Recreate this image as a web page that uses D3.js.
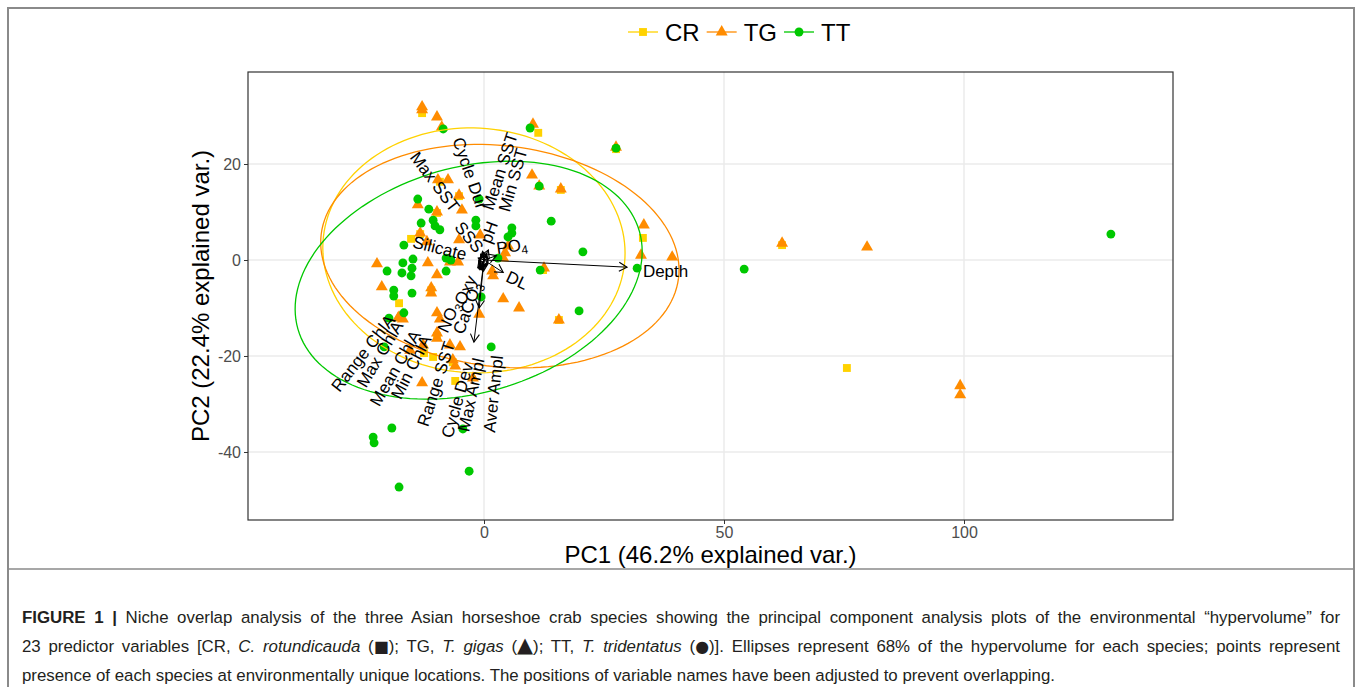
<!DOCTYPE html>
<html>
<head>
<meta charset="utf-8">
<script src="https://cdn.jsdelivr.net/npm/d3@7/dist/d3.min.js"></script>
<style>
    body { margin: 0; background: #fff; }
    svg { font-family: "Liberation Sans", Arial, sans-serif; }
</style>
</head>
<body>
<svg id="chart" width="1360" height="687"></svg>
<script>

// ---- data (PC units) ----
var groups = ["CR", "TG", "TT"];

var crPoints = [
    [-12.9, 30.6], [11.3, 26.5], [-9.2, 16.3], [-5.2, 13.3], [-9.8, 9.8], [-15.2, 4.4], [-13.3, 5.4],
    [33.1, 4.6], [16.0, 14.6], [12.3, -2.1], [15.6, -12.5], [-11.0, -6.3], [-17.7, -9.0], [-9.8, -15.8],
    [-12.5, -19.4], [-10.6, -20.2], [-6.5, -21.3], [-6.0, -25.2], [75.6, -22.5], [62.1, 3.1], [27.5, 23.1]
];

var tgPoints = [
    [-12.9, 31.9], [-12.9, 31.3], [-9.8, 29.8], [-8.8, 27.7], [10.2, 28.3], [27.5, 23.5], [10.0, 17.7],
    [11.5, 15.4], [16.0, 14.8], [-9.6, 16.7], [-7.5, 16.7], [-5.2, 13.5], [-4.6, 10.4], [-13.8, 11.5],
    [-9.8, 10.0], [-13.3, 5.6], [-5.2, 4.2], [-0.8, 5.2], [-11.9, 3.8], [5.0, 2.9], [4.4, 1.5], [4.0, 0.4],
    [33.3, 7.3], [32.7, 1.0], [39.2, 0.6], [62.1, 3.5], [79.8, 2.7], [99.2, -26.2], [99.2, -28.1],
    [12.5, -1.7], [15.6, -12.5], [4.0, -8.1], [7.3, -10.0], [1.7, -2.3], [1.9, -3.3], [-22.3, -0.8],
    [-21.3, -5.6], [-11.7, -0.6], [-9.8, -3.1], [-7.1, -0.4], [-5.4, -0.4], [-11.0, -5.8], [-11.0, -6.9],
    [-17.7, -11.9], [-9.8, -11.0], [-9.2, -12.3], [-9.8, -15.2], [-9.8, -16.3], [-7.1, -17.7], [-5.0, -18.1],
    [-6.5, -20.8], [-6.0, -22.1], [-1.0, -11.3], [-2.3, -24.6], [-12.9, -25.6], [-15.4, -18.8], [-12.7, -17.7],
    [-16.9, -12.3], [-17.9, -12.1]
];

var ttPoints = [
    [130.6, 5.4], [54.2, -1.9], [31.9, -1.7], [27.5, 23.3], [9.6, 27.5], [11.5, 15.4], [14.0, 8.1],
    [20.6, 1.7], [11.7, -2.1], [19.8, -10.6], [5.8, 6.7], [5.8, 5.6], [5.0, 4.8], [2.9, 0.4], [-8.5, 27.3],
    [-1.0, 12.7], [-13.8, 12.7], [-11.5, 10.6], [-10.6, 8.3], [-10.2, 7.1], [-9.2, 6.3], [-13.1, 7.7],
    [-16.7, 3.1], [-1.7, 8.3], [-1.7, 7.1], [-20.2, -2.3], [-16.9, -0.6], [-17.1, -2.7], [-14.8, 0.2],
    [-15.0, -1.7], [-15.2, -3.3], [-18.8, -6.3], [-18.8, -7.5], [-15.0, -6.9], [-16.7, -11.0], [-19.8, -12.1],
    [-7.9, -2.3], [-6.9, 0.0], [-0.6, -7.7], [1.5, -18.1], [-4.4, -35.2], [-3.1, -44.0], [-17.7, -47.3],
    [-23.1, -36.9], [-22.9, -38.1], [-19.2, -35.0], [-20.8, -18.1], [-7.9, 0.4]
];

// 68% ellipses: centre, semi axes, rotation (deg)
var ellipseCentre = [[-2.1, 2.0], [3.3, 0.8], [-3.2, -4.2]];
var ellipseAxes = [[31.5, 25.5], [37.5, 23.0], [37.0, 23.5]];
var ellipseAngle = [-3, -7, 16];

// variable arrows (end points) and their adjusted label positions
var varNames = ["Depth", "DL", "PO4", "pH", "SSS", "Silicate", "Max SST", "Cycle Dur", "Mean SST", "Min SST",
    "NO3Oxy", "CaCO3", "Range ChlA", "Max ChlA", "Mean ChlA", "Min ChlA", "Range SST", "Cycle Dev", "Max Ampl", "Aver Ampl"];
var varX = [29.8, 4.0, 2.6, 0.9, -0.3, -1.2, -0.7, -0.2, 0.5, 0.6, -0.6, -1.0, -1.3, -1.1, -0.9, -0.8, -0.5, -0.3, -0.1, -2.1];
var varY = [-1.5, -2.6, 0.9, 2.1, 1.8, 0.4, 1.2, 1.5, 1.4, 1.1, -1.5, -10.0, -1.6, -1.8, -1.9, -2.0, -2.0, -2.2, -2.3, -17.1];
var labelX = [33.1, 6.9, 5.8, 1.0, -3.1, -9.2, -10.2, -2.9, 3.3, 6.0, -6.0, -3.5, -25.2, -21.7, -18.5, -15.2, -10.0, -5.6, -2.7, 1.9];
var labelY = [-2.3, -4.2, 2.9, 5.8, 4.8, 2.5, 16.3, 18.1, 18.5, 16.7, -9.0, -10.0, -19.4, -19.6, -22.5, -22.3, -25.8, -29.2, -28.1, -27.9];
var labelAngle = [0, 25, -8, -70, 50, 14, 53, 71, -72, -74, -65, -70, -52, -59, -60, -63, -72, -74, -78, -84];

var xTicks = [0, 50, 100];
var yTicks = [20, 0, -20, -40];
var xDomain = [-49.17, 143.54];
var yDomain = [-54.17, 39.17];

var xTitle = "PC1 (46.2% explained var.)";
var yTitle = "PC2 (22.4% explained var.)";

var captionLines = [
    [{t: "FIGURE 1 |", b: 1}, {t: " Niche overlap analysis of the three Asian horseshoe crab species showing the principal component analysis plots of the environmental \u201chypervolume\u201d for"}],
    [{t: "23 predictor variables [CR, "}, {t: "C. rotundicauda", i: 1}, {t: " ("}, {t: "\u25A0", s: 1}, {t: "); TG, "}, {t: "T. gigas", i: 1},
        {t: " ("}, {t: "\u25B2", s: 2}, {t: "); TT, "}, {t: "T. tridentatus", i: 1}, {t: " ("}, {t: "\u25CF", s: 1},
        {t: ")]. Ellipses represent 68% of the hypervolume for each species; points represent"}],
    [{t: "presence of each species at environmentally unique locations. The positions of variable names have been adjusted to prevent overlapping."}]
];

var colors = ["#FFD200", "#FF8C00", "#00C800"];
var shapes = [d3.symbolSquare, d3.symbolTriangle, d3.symbolCircle];
var shapeSize = [62, 62, 62];

// ---- layout ----
var panel = {left: 248, top: 72, right: 1173, bottom: 520};

var svg = d3.select("#chart");

var x = d3.scaleLinear().domain(xDomain).range([panel.left, panel.right]);
var y = d3.scaleLinear().domain(yDomain).range([panel.bottom, panel.top]);

// figure frame
svg.append("rect")
    .attr("x", 8).attr("y", 8)
    .attr("width", 1346).attr("height", 700)
    .attr("fill", "none")
    .attr("stroke", "#8a8a8a")
    .attr("stroke-width", 2);
svg.append("line")
    .attr("x1", 8).attr("x2", 1354)
    .attr("y1", 569).attr("y2", 569)
    .attr("stroke", "#8a8a8a")
    .attr("stroke-width", 1.5);

// grid
var grid = svg.append("g").attr("class", "grid");
grid.selectAll(".gx").data(xTicks).enter().append("line")
    .attr("x1", function(d) { return x(d); })
    .attr("x2", function(d) { return x(d); })
    .attr("y1", panel.top).attr("y2", panel.bottom)
    .attr("stroke", "#EBEBEB").attr("stroke-width", 1.5);
grid.selectAll(".gy").data(yTicks).enter().append("line")
    .attr("y1", function(d) { return y(d); })
    .attr("y2", function(d) { return y(d); })
    .attr("x1", panel.left).attr("x2", panel.right)
    .attr("stroke", "#EBEBEB").attr("stroke-width", 1.5);

// axes
var xAxis = svg.append("g")
    .attr("transform", "translate(0," + panel.bottom + ")")
    .call(d3.axisBottom(x).tickValues(xTicks).tickSize(4).tickPadding(3).tickFormat(d3.format("d")));
var yAxis = svg.append("g")
    .attr("transform", "translate(" + panel.left + ",0)")
    .call(d3.axisLeft(y).tickValues(yTicks).tickSize(4).tickPadding(3).tickFormat(function(d) { return d < 0 ? "-" + Math.abs(d) : d; }));

[xAxis, yAxis].forEach(function(a) {
    a.select(".domain").remove();
    a.selectAll("line").attr("stroke", "#333");
    a.selectAll("text")
        .attr("fill", "#4D4D4D")
        .style("font-size", "16px")
        .style("font-family", "\"Liberation Sans\", Arial, sans-serif");
});

// points
var allPoints = [crPoints, tgPoints, ttPoints];
allPoints.forEach(function(pts, gi) {
    svg.append("g").selectAll("path").data(pts).enter().append("path")
        .attr("d", d3.symbol().type(shapes[gi]).size(shapeSize[gi]))
        .attr("transform", function(d) { return "translate(" + x(d[0]) + "," + y(d[1]) + ")"; })
        .attr("fill", colors[gi]);
});

// ellipses
function ellipsePoints(c, ax, ang) {
    var pts = [];
    var th = ang * Math.PI / 180;
    for (var i = 0; i <= 144; i++) {
        var t = 2 * Math.PI * i / 144;
        pts.push([
            c[0] + ax[0] * Math.cos(t) * Math.cos(th) - ax[1] * Math.sin(t) * Math.sin(th),
            c[1] + ax[0] * Math.cos(t) * Math.sin(th) + ax[1] * Math.sin(t) * Math.cos(th)
        ]);
    }
    return pts;
}
var line = d3.line()
    .x(function(d) { return x(d[0]); })
    .y(function(d) { return y(d[1]); });

groups.forEach(function(gname, gi) {
    svg.append("path")
        .attr("d", line(ellipsePoints(ellipseCentre[gi], ellipseAxes[gi], ellipseAngle[gi])))
        .attr("fill", "none")
        .attr("stroke", colors[gi])
        .attr("stroke-width", 1.3);
});

// arrows
svg.append("defs").append("marker")
    .attr("id", "head")
    .attr("viewBox", "-10 -6 12 12")
    .attr("refX", 0).attr("refY", 0)
    .attr("markerWidth", 12).attr("markerHeight", 12)
    .attr("markerUnits", "userSpaceOnUse")
    .attr("orient", "auto")
    .append("path")
    .attr("d", "M-8,-4.5L0,0L-8,4.5")
    .attr("fill", "none")
    .attr("stroke", "#000")
    .attr("stroke-width", 1.1);

svg.append("g").selectAll("line").data(varNames).enter().append("line")
    .attr("x1", x(0)).attr("y1", y(0))
    .attr("x2", function(d, i) { return x(varX[i]); })
    .attr("y2", function(d, i) { return y(varY[i]); })
    .attr("stroke", "#000")
    .attr("stroke-width", 1)
    .attr("marker-end", "url(#head)");

// variable labels, digits as subscripts
var labs = svg.append("g").selectAll("text").data(varNames).enter().append("text")
    .attr("transform", function(d, i) {
        return "translate(" + x(labelX[i]) + "," + y(labelY[i]) + ") rotate(" + labelAngle[i] + ")";
    })
    .attr("text-anchor", function(d) { return d === "Depth" ? "start" : "middle"; })
    .attr("dy", "0.35em")
    .attr("font-size", 17)
    .attr("fill", "#000");

labs.each(function(d) {
    var el = d3.select(this);
    var parts = d.split(/(\d)/);
    parts.forEach(function(p) {
        if (p === "") return;
        if (/\d/.test(p)) {
            el.append("tspan").attr("font-size", 12).attr("dy", "0.3em").text(p);
            el.append("tspan").attr("dy", "-0.3em").text("");
        } else {
            el.append("tspan").text(p);
        }
    });
});

// panel border
svg.append("rect")
    .attr("x", panel.left).attr("y", panel.top)
    .attr("width", panel.right - panel.left)
    .attr("height", panel.bottom - panel.top)
    .attr("fill", "none")
    .attr("stroke", "#333")
    .attr("stroke-width", 1.2);

// axis titles
svg.append("text")
    .attr("x", (panel.left + panel.right) / 2)
    .attr("y", 563)
    .attr("text-anchor", "middle")
    .attr("font-size", 24)
    .text(xTitle);
svg.append("text")
    .attr("transform", "translate(209," + (panel.top + panel.bottom) / 2 + ") rotate(-90)")
    .attr("text-anchor", "middle")
    .attr("font-size", 24)
    .text(yTitle);

// legend
var lx = 628, ly = 32;
groups.forEach(function(gname, gi) {
    svg.append("line")
        .attr("x1", lx).attr("x2", lx + 30)
        .attr("y1", ly).attr("y2", ly)
        .attr("stroke", colors[gi]).attr("stroke-width", 1.3);
    svg.append("path")
        .attr("d", d3.symbol().type(shapes[gi]).size(shapeSize[gi]))
        .attr("transform", "translate(" + (lx + 15) + "," + ly + ")")
        .attr("fill", colors[gi]);
    var t = svg.append("text")
        .attr("x", lx + 37).attr("y", ly)
        .attr("dy", "0.36em")
        .attr("font-size", 24)
        .text(gname);
    lx = lx + 37 + t.node().getComputedTextLength() + 7;
});

// caption: narrow glyphs (condensed look), then justify the first two lines
var capLeft = 22, capFull = 1318, capLast = 960;
var cap = svg.append("g")
    .attr("font-family", "\"Liberation Sans Narrow\", \"Liberation Sans\", Arial, sans-serif")
    .attr("font-size", 17)
    .attr("fill", "#231F20");
var capTexts = [];
captionLines.forEach(function(parts, li) {
    var txt = cap.append("text")
        .attr("x", 0)
        .attr("y", 623 + li * 29);
    parts.forEach(function(p) {
        var ts = txt.append("tspan").text(p.t);
        if (p.b) ts.attr("font-weight", "bold");
        if (p.i) ts.attr("font-style", "italic");
        if (p.s) ts.attr("font-family", "\"DejaVu Sans\", sans-serif").attr("font-size", p.s === 2 ? 21 : 16);
    });
    capTexts.push(txt);
});
var sx1 = capFull / capTexts[0].node().getComputedTextLength();
var sx3 = capLast / capTexts[2].node().getComputedTextLength();
var sx = Math.min(1, (sx1 + sx3) / 2);
cap.attr("transform", "translate(" + capLeft + ",0) scale(" + sx + ",1)");
capTexts.forEach(function(txt, li) {
    if (li < 2) {
        var natural = txt.node().getComputedTextLength();
        var spaces = 0;
        captionLines[li].forEach(function(p) { spaces += (p.t.match(/ /g) || []).length; });
        txt.attr("word-spacing", (capFull / sx - natural) / spaces);
    }
});

</script>
</body>
</html>
